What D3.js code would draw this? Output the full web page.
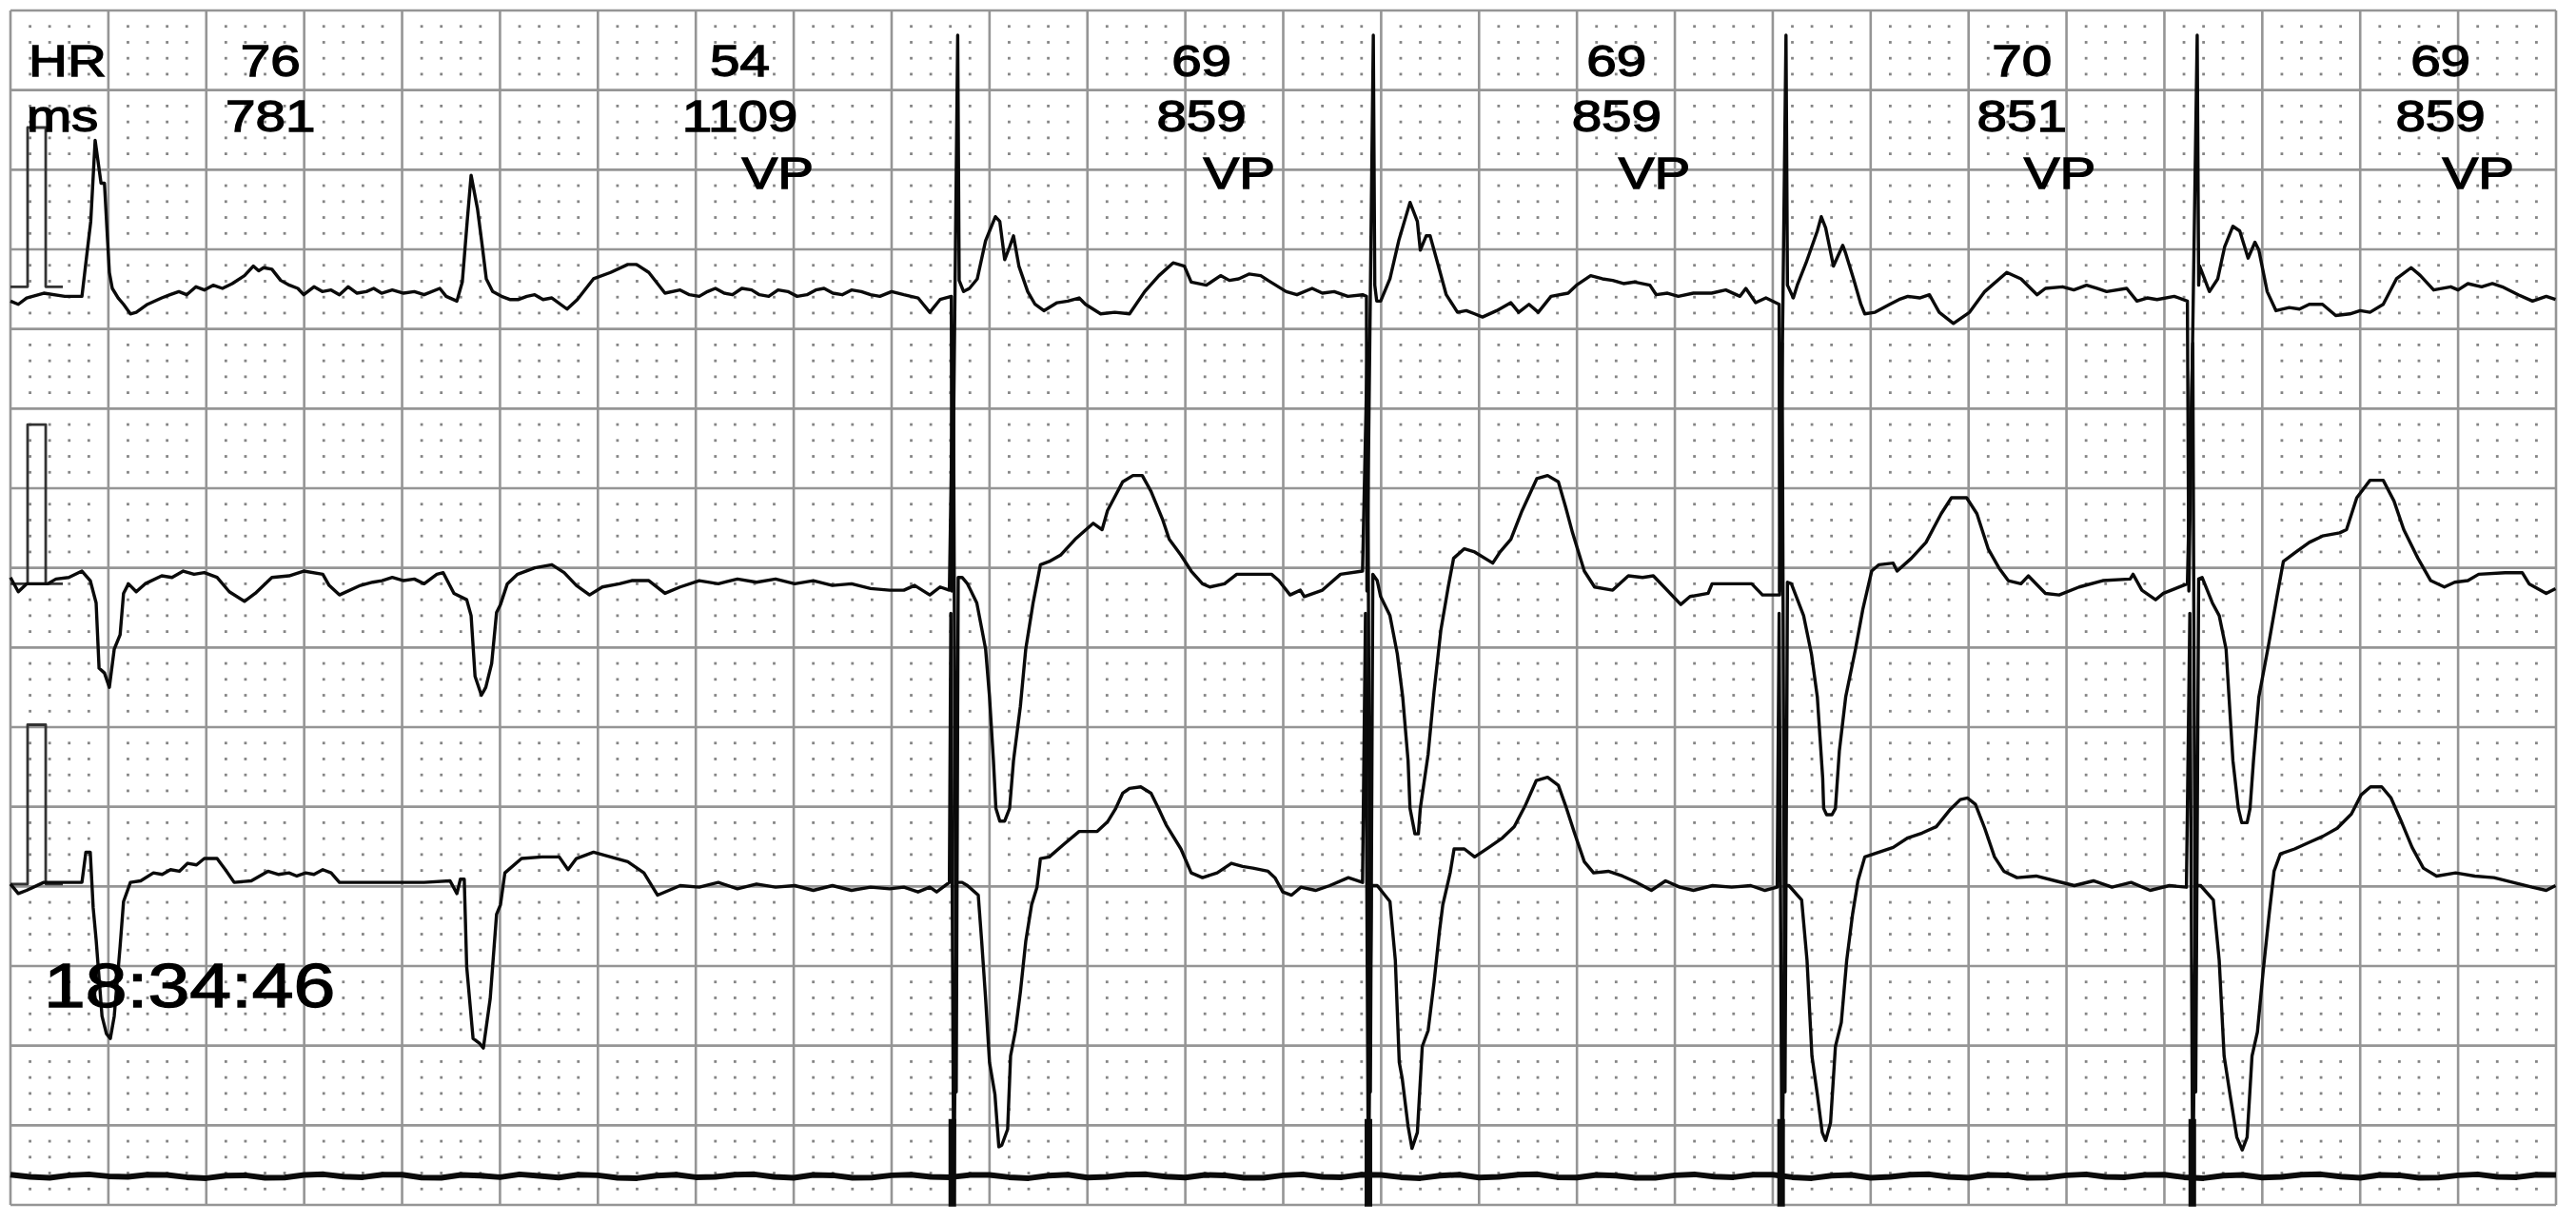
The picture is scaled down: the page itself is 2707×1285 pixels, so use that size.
<!DOCTYPE html>
<html><head><meta charset="utf-8">
<script src="https://cdn.jsdelivr.net/npm/d3@7"></script>
<style>html,body{margin:0;padding:0;background:#fff;}svg{display:block;}</style>
</head><body>
<svg id="chart" width="2707" height="1285"></svg>
<script>
// ---------------- DATA (time in ms, amplitude in mV) ----------------
const hrValues  = ["76", "54", "69", "69", "70", "69"];
const rrValues  = ["781", "1109", "859", "859", "851", "859"];
const beatMarks = ["", "VP", "VP", "VP", "VP", "VP"];
const labelTimes = [531, 1490, 2433, 3281, 4109, 4964];
const rowTitles = ["HR", "ms"];
const timeStamp = "18:34:46";
const paceTimes = [1924, 2774, 3617, 4457];
const markerSpike = [0.36, -0.19];
const calibBase = [0.04, -0.01, 0.0];

const ch1Trace = [
[0,-0.05],[16,-0.07],[33,-0.03],[68,0],[111,-0.02],[146,-0.02],[154,0.19],[164,0.45],[173,0.96],[185,0.69],[192,0.69],[202,0.13],[208,0.03],[220,-0.03],[231,-0.07],[245,-0.13],[257,-0.12],[280,-0.07],[309,-0.03],[326,-0.01],[344,0.01],[360,-0.01],[379,0.04],[396,0.02],[414,0.05],[433,0.03],[453,0.06],[478,0.11],[496,0.17],[507,0.14],[517,0.16],[534,0.15],[552,0.08],[570,0.05],[587,0.03],[599,-0.01],[620,0.04],[637,0.01],[655,0.02],[672,-0.01],[690,0.04],[708,0.0],[727,0.01],[742,0.03],[758,0],[780,0.02],[803,0],[825,0.01],[845,-0.01],[877,0.03],[890,-0.02],[912,-0.05],[923,0.07],[933,0.45],[941,0.74],[954,0.53],[964,0.29],[972,0.09],[985,0.01],[1003,-0.02],[1020,-0.04],[1038,-0.04],[1055,-0.02],[1071,-0.01],[1088,-0.04],[1106,-0.03],[1137,-0.10],[1158,-0.04],[1191,0.09],[1226,0.13],[1261,0.18],[1279,0.18],[1304,0.13],[1337,0],
[1368,0.02],[1387,-0.01],[1407,-0.02],[1424,0.01],[1440,0.03],[1458,0.0],[1475,-0.01],[1494,0.03],[1514,0.02],[1530,-0.01],[1549,-0.02],[1568,0.02],[1588,0.01],[1607,-0.02],[1627,-0.01],[1645,0.02],[1662,0.03],[1680,0.0],[1699,-0.01],[1718,0.02],[1738,0.01],[1757,-0.01],[1776,-0.02],[1800,0.01],[1825,-0.01],[1854,-0.03],[1878,-0.12],[1899,-0.04],[1922,-0.02],
[1923,-1.87],[1935,1.62],[1938,0.08],
[1947,0.01],[1959,0.03],[1975,0.09],[1992,0.33],[2012,0.48],[2021,0.45],[2031,0.21],[2041,0.29],[2049,0.36],[2060,0.17],[2078,0.01],[2093,-0.07],[2111,-0.11],[2138,-0.06],[2160,-0.05],[2183,-0.03],[2196,-0.07],[2227,-0.13],[2256,-0.12],[2286,-0.13],[2317,0.01],[2346,0.11],[2375,0.19],[2398,0.17],[2412,0.07],[2443,0.05],[2472,0.11],[2490,0.08],[2509,0.09],[2530,0.12],[2554,0.11],[2569,0.08],[2606,0.01],[2628,-0.01],[2659,0.03],[2680,0.0],[2704,0.01],[2732,-0.02],[2762,-0.01],[2770,-0.02],
[2771,-1.87],[2784,1.62],[2787,0.05],
[2791,-0.05],[2799,-0.05],[2818,0.09],[2836,0.33],[2859,0.57],[2874,0.45],[2880,0.27],[2892,0.36],[2900,0.36],[2917,0.17],[2933,-0.01],[2956,-0.12],[2974,-0.11],[2991,-0.13],[3007,-0.15],[3036,-0.11],[3065,-0.06],[3081,-0.12],[3102,-0.07],[3121,-0.12],[3147,-0.02],[3182,0],[3199,0.05],[3228,0.11],[3252,0.09],[3273,0.08],[3295,0.06],[3318,0.07],[3349,0.05],[3362,-0.01],[3385,0.0],[3407,-0.02],[3438,0],[3475,0],[3504,0.02],[3533,-0.02],[3545,0.03],[3565,-0.06],[3586,-0.03],[3613,-0.07],
[3614,-1.87],[3627,1.62],[3630,0.05],
[3642,-0.03],[3650,0.05],[3668,0.19],[3691,0.39],[3699,0.48],[3708,0.41],[3724,0.17],[3743,0.30],[3749,0.25],[3765,0.09],[3780,-0.07],[3788,-0.13],[3809,-0.12],[3839,-0.07],[3858,-0.04],[3876,-0.02],[3900,-0.03],[3920,-0.01],[3940,-0.12],[3969,-0.19],[4002,-0.12],[4033,0.01],[4078,0.13],[4107,0.09],[4140,-0.01],[4157,0.03],[4192,0.04],[4215,0.02],[4241,0.05],[4262,0.03],[4282,0.01],[4323,0.03],[4344,-0.05],[4365,-0.03],[4385,-0.04],[4420,-0.02],[4447,-0.05],
[4450,-1.87],[4467,1.62],[4470,0.05],
[4472,0.17],[4492,0.01],[4509,0.09],[4523,0.29],[4540,0.42],[4554,0.39],[4571,0.22],[4585,0.32],[4593,0.27],[4610,0.01],[4628,-0.11],[4655,-0.09],[4676,-0.1],[4696,-0.07],[4723,-0.07],[4750,-0.14],[4779,-0.13],[4800,-0.11],[4820,-0.12],[4847,-0.07],[4874,0.09],[4904,0.16],[4923,0.11],[4950,0.02],[4985,0.04],[5000,0.02],[5020,0.06],[5048,0.04],[5070,0.06],[5090,0.04],[5123,-0.01],[5152,-0.05],[5180,-0.02],[5199,-0.04]
];

const ch2Trace = [
[0,0.03],[16,-0.06],[33,-0.01],[76,-0.01],[93,0.02],[119,0.03],[146,0.07],[163,0.01],[175,-0.13],[181,-0.54],[192,-0.57],[202,-0.66],[212,-0.42],[224,-0.33],[231,-0.07],[241,-0.01],[257,-0.06],[275,-0.01],[309,0.04],[330,0.03],[353,0.07],[375,0.05],[396,0.06],[422,0.03],[447,-0.06],[478,-0.12],[500,-0.07],[534,0.03],[569,0.04],[599,0.07],[638,0.05],[651,-0.02],[672,-0.08],[715,-0.02],[740,0.0],[759,0.01],[780,0.03],[803,0.01],[825,0.02],[845,-0.01],[871,0.05],[884,0.06],[906,-0.07],[932,-0.11],[941,-0.21],[949,-0.59],[962,-0.71],[971,-0.66],[983,-0.51],[993,-0.19],[1001,-0.14],[1015,-0.01],[1036,0.05],[1071,0.09],[1106,0.11],[1131,0.06],[1156,-0.02],[1183,-0.08],[1209,-0.03],[1244,-0.01],[1269,0.01],[1304,0.01],[1337,-0.07],
[1368,-0.03],[1407,0.01],[1446,-0.01],[1485,0.02],[1524,0],[1563,0.02],[1602,-0.01],[1640,0.01],[1679,-0.02],[1718,-0.01],[1757,-0.04],[1796,-0.05],[1825,-0.05],[1847,-0.02],[1878,-0.08],[1899,-0.03],[1918,-0.05],
[1926,1.5],[1932,-3.2],[1936,0.03],
[1944,0.03],[1955,-0.01],[1974,-0.13],[1984,-0.29],[1992,-0.42],[2000,-0.72],[2008,-1.12],[2013,-1.42],[2021,-1.5],[2031,-1.5],[2041,-1.42],[2049,-1.12],[2063,-0.78],[2074,-0.42],[2089,-0.13],[2104,0.11],[2122,0.13],[2145,0.17],[2175,0.27],[2212,0.37],[2230,0.33],[2241,0.45],[2272,0.63],[2293,0.67],[2312,0.67],[2330,0.57],[2354,0.39],[2367,0.27],[2391,0.17],[2412,0.07],[2435,-0.01],[2450,-0.03],[2480,-0.01],[2505,0.05],[2576,0.05],[2591,0.01],[2614,-0.08],[2635,-0.05],[2643,-0.09],[2680,-0.05],[2717,0.05],[2762,0.07],
[2772,1.5],[2778,-3.2],[2783,0.05],
[2792,0.01],[2799,-0.09],[2818,-0.21],[2833,-0.45],[2844,-0.72],[2855,-1.12],[2859,-1.42],[2869,-1.58],[2876,-1.58],[2880,-1.42],[2896,-1.08],[2908,-0.69],[2922,-0.3],[2937,-0.03],[2948,0.15],[2970,0.21],[2991,0.19],[3028,0.12],[3043,0.19],[3065,0.27],[3088,0.45],[3118,0.65],[3140,0.67],[3162,0.63],[3177,0.47],[3191,0.31],[3215,0.07],[3236,-0.03],[3273,-0.05],[3305,0.04],[3334,0.03],[3356,0.04],[3378,-0.03],[3412,-0.14],[3431,-0.09],[3468,-0.07],[3476,-0.01],[3557,-0.01],[3579,-0.08],[3614,-0.08],
[3619,1.5],[3625,-3.2],[3630,0],
[3638,-0.01],[3663,-0.21],[3679,-0.45],[3691,-0.72],[3702,-1.23],[3704,-1.42],[3710,-1.46],[3721,-1.46],[3728,-1.42],[3736,-1.06],[3749,-0.72],[3769,-0.42],[3784,-0.17],[3802,0.07],[3817,0.11],[3846,0.12],[3854,0.07],[3883,0.15],[3913,0.25],[3944,0.43],[3965,0.53],[3996,0.53],[4017,0.43],[4040,0.21],[4062,0.09],[4081,0.01],[4107,-0.01],[4122,0.04],[4157,-0.07],[4185,-0.08],[4226,-0.03],[4274,0.01],[4330,0.02],[4336,0.05],[4354,-0.05],[4382,-0.11],[4398,-0.07],[4447,-0.01],
[4458,1.5],[4464,-3.2],[4470,0.02],
[4477,0.03],[4498,-0.13],[4512,-0.21],[4526,-0.42],[4532,-0.72],[4540,-1.12],[4551,-1.42],[4558,-1.51],[4569,-1.51],[4575,-1.42],[4582,-1.12],[4593,-0.72],[4613,-0.39],[4630,-0.09],[4643,0.13],[4669,0.19],[4696,0.25],[4723,0.29],[4758,0.31],[4772,0.33],[4793,0.53],[4820,0.64],[4847,0.64],[4869,0.51],[4889,0.33],[4918,0.15],[4944,0.01],[4972,-0.03],[4993,0],[5020,0.01],[5042,0.05],[5096,0.06],[5131,0.06],[5145,-0.01],[5180,-0.07],[5199,-0.04]
];

const ch3Trace = [
[0,0],[16,-0.06],[33,-0.04],[68,0.01],[102,0.01],[146,0.01],[154,0.2],[163,0.2],[169,-0.15],[175,-0.35],[187,-0.83],[196,-0.94],[204,-0.97],[212,-0.83],[224,-0.39],[231,-0.11],[245,0.01],[266,0.02],[292,0.07],[310,0.06],[327,0.09],[345,0.08],[362,0.13],[380,0.12],[396,0.16],[422,0.16],[439,0.09],[457,0.01],[492,0.02],[526,0.08],[548,0.06],[569,0.07],[585,0.05],[603,0.07],[620,0.06],[638,0.09],[655,0.07],[672,0.01],[715,0.01],[759,0.01],[803,0.01],[845,0.01],[898,0.02],[912,-0.06],[919,0.03],[927,0.03],[932,-0.52],[945,-0.97],[958,-1.0],[966,-1.03],[980,-0.72],[993,-0.19],[1001,-0.13],[1010,0.07],[1044,0.16],[1086,0.17],[1121,0.17],[1139,0.09],[1156,0.16],[1191,0.2],[1226,0.17],[1261,0.14],[1294,0.07],[1322,-0.07],[1337,-0.05],
[1368,-0.01],[1407,-0.02],[1446,0.01],[1485,-0.03],[1524,0],[1563,-0.02],[1602,-0.01],[1640,-0.04],[1679,-0.01],[1718,-0.04],[1757,-0.02],[1796,-0.03],[1825,-0.02],[1854,-0.05],[1878,-0.02],[1892,-0.05],[1918,0.01],
[1921,1.7],[1927,-2.0],[1933,0.01],
[1944,0.01],[1955,-0.01],[1977,-0.07],[1984,-0.36],[1992,-0.72],[2000,-1.12],[2011,-1.32],[2019,-1.65],[2025,-1.64],[2037,-1.54],[2043,-1.08],[2053,-0.92],[2063,-0.68],[2074,-0.36],[2086,-0.13],[2097,-0.02],[2104,0.16],[2122,0.17],[2152,0.25],[2183,0.33],[2220,0.33],[2241,0.39],[2257,0.47],[2272,0.57],[2286,0.6],[2309,0.61],[2330,0.57],[2346,0.47],[2361,0.37],[2391,0.22],[2412,0.07],[2435,0.04],[2465,0.07],[2494,0.13],[2517,0.11],[2538,0.1],[2569,0.08],[2583,0.04],[2599,-0.05],[2617,-0.07],[2636,-0.02],[2666,-0.04],[2695,-0.01],[2733,0.04],[2762,0.01],
[2768,1.7],[2774,-2.0],[2780,-0.01],
[2792,-0.01],[2818,-0.11],[2829,-0.48],[2837,-1.12],[2843,-1.22],[2855,-1.52],[2863,-1.66],[2874,-1.56],[2884,-1.02],[2896,-0.92],[2908,-0.62],[2919,-0.3],[2926,-0.13],[2941,0.07],[2949,0.22],[2970,0.22],[2991,0.17],[3020,0.23],[3048,0.29],[3072,0.36],[3094,0.49],[3117,0.65],[3140,0.67],[3162,0.62],[3177,0.49],[3195,0.32],[3215,0.14],[3234,0.07],[3264,0.08],[3293,0.05],[3322,0.01],[3352,-0.04],[3381,0.02],[3410,-0.02],[3438,-0.04],[3477,-0.01],[3516,-0.02],[3555,-0.01],[3584,-0.04],[3609,-0.02],
[3613,1.7],[3619,-2.0],[3625,-0.01],
[3633,-0.01],[3659,-0.1],[3670,-0.48],[3680,-1.08],[3691,-1.32],[3701,-1.56],[3708,-1.61],[3718,-1.5],[3728,-1.02],[3740,-0.87],[3751,-0.48],[3763,-0.19],[3774,0.02],[3788,0.17],[3817,0.2],[3846,0.23],[3876,0.29],[3905,0.32],[3934,0.36],[3963,0.47],[3983,0.53],[3998,0.54],[4014,0.5],[4033,0.35],[4053,0.17],[4072,0.08],[4099,0.04],[4138,0.05],[4177,0.02],[4216,-0.01],[4255,0.02],[4293,-0.02],[4332,0.01],[4371,-0.04],[4410,-0.01],[4445,-0.02],
[4452,1.7],[4458,-2.0],[4464,-0.01],
[4474,-0.01],[4500,-0.1],[4512,-0.48],[4522,-1.08],[4534,-1.32],[4548,-1.59],[4559,-1.67],[4569,-1.59],[4579,-1.08],[4590,-0.93],[4602,-0.54],[4614,-0.19],[4624,0.08],[4637,0.19],[4666,0.22],[4695,0.26],[4724,0.3],[4753,0.35],[4782,0.44],[4802,0.56],[4821,0.61],[4844,0.61],[4863,0.54],[4883,0.4],[4906,0.23],[4929,0.1],[4956,0.05],[4995,0.07],[5034,0.05],[5073,0.04],[5112,0.01],[5151,-0.02],[5180,-0.04],[5199,-0.01]
];

const markerTrace = [
[0,0.01],[40,-0.004],[80,-0.01],[120,0.006],[160,0.012],[200,0.0],[240,-0.004],[280,0.01],[320,0.008],[360,-0.006],[400,-0.012],[440,0.004],[480,0.006],[520,-0.01],[560,-0.008],[600,0.008],[640,0.012],[680,-0.002],[720,-0.006],[760,0.01],[800,0.01],[840,-0.008],[880,-0.01],[920,0.008],[960,0.004],[1000,-0.006],[1040,0.012],[1080,0.002],[1120,-0.008],[1160,0.01],[1200,0.006],[1240,-0.01],[1280,-0.012],[1320,0.004],[1360,0.01],[1400,-0.006],[1440,-0.004],[1480,0.01],[1520,0.012],[1560,-0.004],[1600,-0.01],[1640,0.008],[1680,0.006],[1720,-0.01],[1760,-0.008],[1800,0.006],[1840,0.01],[1880,-0.004],[1920,-0.006],[1960,0.008],[2000,0.008],[2040,-0.006],[2080,-0.012],[2120,0.004],[2160,0.01],[2200,-0.008],[2240,-0.004],[2280,0.01],[2320,0.012],[2360,-0.002],[2400,-0.008],[2440,0.008],[2480,0.006],[2520,-0.01],[2560,-0.01],[2600,0.006],[2640,0.012],[2680,-0.004],[2720,-0.006],[2760,0.01],[2800,0.008],[2840,-0.006],[2880,-0.012],[2920,0.004],[2960,0.01],[3000,-0.008],[3040,-0.004],[3080,0.01],[3120,0.012],[3160,-0.006],[3200,-0.008],[3240,0.008],[3280,0.004],[3320,-0.01],[3360,-0.01],[3400,0.006],[3440,0.012],[3480,-0.002],[3520,-0.006],[3560,0.01],[3600,0.01],[3640,-0.006],[3680,-0.012],[3720,0.004],[3760,0.008],[3800,-0.01],[3840,-0.004],[3880,0.01],[3920,0.012],[3960,-0.004],[4000,-0.01],[4040,0.008],[4080,0.006],[4120,-0.01],[4160,-0.008],[4200,0.006],[4240,0.012],[4280,-0.004],[4320,-0.006],[4360,0.008],[4400,0.01],[4440,-0.006],[4480,-0.012],[4520,0.004],[4560,0.008],[4600,-0.008],[4640,-0.004],[4680,0.01],[4720,0.012],[4760,-0.002],[4800,-0.01],[4840,0.008],[4880,0.006],[4920,-0.01],[4960,-0.008],[5000,0.006],[5040,0.012],[5080,-0.004],[5120,-0.006],[5160,0.01],[5200,0.008]
];

// ---------------- LAYOUT ----------------
const leadBaseMm = [17.75, 35.9, 54.85, 73.2]; // baseline of each lead on the paper (mm from top)
const mmPerMv = 10;
const svg = d3.select("#chart");
const x = d3.scaleLinear().domain([0, 5200]).range([11, 2686]);
const paperY = d3.scaleLinear().domain([0, 75]).range([11, 1266]);
const leadY = i => v => paperY(leadBaseMm[i] - v * mmPerMv);

// grid dots
const gDots = svg.append("g").attr("fill", "#858585");
const dotTimes = d3.range(40, 5200, 40).filter(t => t % 200 !== 0);
const dotMm = d3.range(1, 75, 1).filter(m => m % 5 !== 0);
dotMm.forEach(m => {
  gDots.selectAll(null).data(dotTimes).enter().append("rect")
    .attr("x", d => x(d) - 1.4).attr("y", paperY(m) - 1.4)
    .attr("width", 2.8).attr("height", 2.8);
});

// major grid
const gGrid = svg.append("g").attr("stroke", "#959595").attr("stroke-width", 2.6);
gGrid.selectAll("line.v").data(d3.range(0, 5201, 200)).enter().append("line")
  .attr("x1", d => x(d)).attr("x2", d => x(d)).attr("y1", paperY(0)).attr("y2", paperY(75));
gGrid.selectAll("line.h").data(d3.range(0, 76, 5)).enter().append("line")
  .attr("x1", x(0)).attr("x2", x(5200)).attr("y1", d => paperY(d)).attr("y2", d => paperY(d));

// calibration pulses
const gTr = svg.append("g").attr("fill", "none").attr("stroke", "#0a0a0a").attr("stroke-width", 3.4).attr("stroke-linejoin", "round");
calibBase.forEach((b, i) => {
  const ys = leadY(i);
  const pts = [[0, b], [35, b], [35, b + 1], [72, b + 1], [72, b], [107, b]];
  gTr.append("path").attr("d", d3.line().x(d => x(d[0])).y(d => ys(d[1]))(pts)).attr("stroke-width", 2.8).attr("stroke", "#333");
});

// traces
[ch1Trace, ch2Trace, ch3Trace].forEach((tr, i) => {
  const ys = leadY(i);
  gTr.append("path").attr("d", d3.line().x(d => x(d[0])).y(d => ys(d[1]))(tr));
});

// marker channel
const ym = leadY(3);
gTr.append("path").attr("d", d3.line().x(d => x(d[0])).y(d => ym(d[1]))(markerTrace)).attr("stroke-width", 6);
gTr.selectAll("line.pm").data(paceTimes).enter().append("line")
  .attr("x1", d => x(d)).attr("x2", d => x(d))
  .attr("y1", ym(markerSpike[0])).attr("y2", ym(markerSpike[1]))
  .attr("stroke-width", 8);

// texts
const font = "'Liberation Sans', Arial, Helvetica, sans-serif";
const gT = svg.append("g").attr("font-family", font).attr("fill", "#000")
  .attr("stroke", "#000").attr("stroke-width", 1.3);
const sx = 1.23;
const addText = (txt, px, py, size, anchor) => gT.append("text")
  .attr("transform", `translate(${px},${py}) scale(${sx},1)`)
  .attr("font-size", size).attr("text-anchor", anchor).text(txt);
addText(rowTitles[0], x(37), paperY(4.12), 46, "start");
addText(rowTitles[1], x(33), paperY(7.56), 46, "start");
labelTimes.forEach((t, i) => {
  addText(hrValues[i], x(t), paperY(4.12), 46, "middle");
  addText(rrValues[i], x(t), paperY(7.56), 46, "middle");
  if (beatMarks[i]) addText(beatMarks[i], x(t) + 2, paperY(11.15), 46, "start");
});
addText(timeStamp, x(68), paperY(62.57), 64, "start");
</script>
</body></html>
